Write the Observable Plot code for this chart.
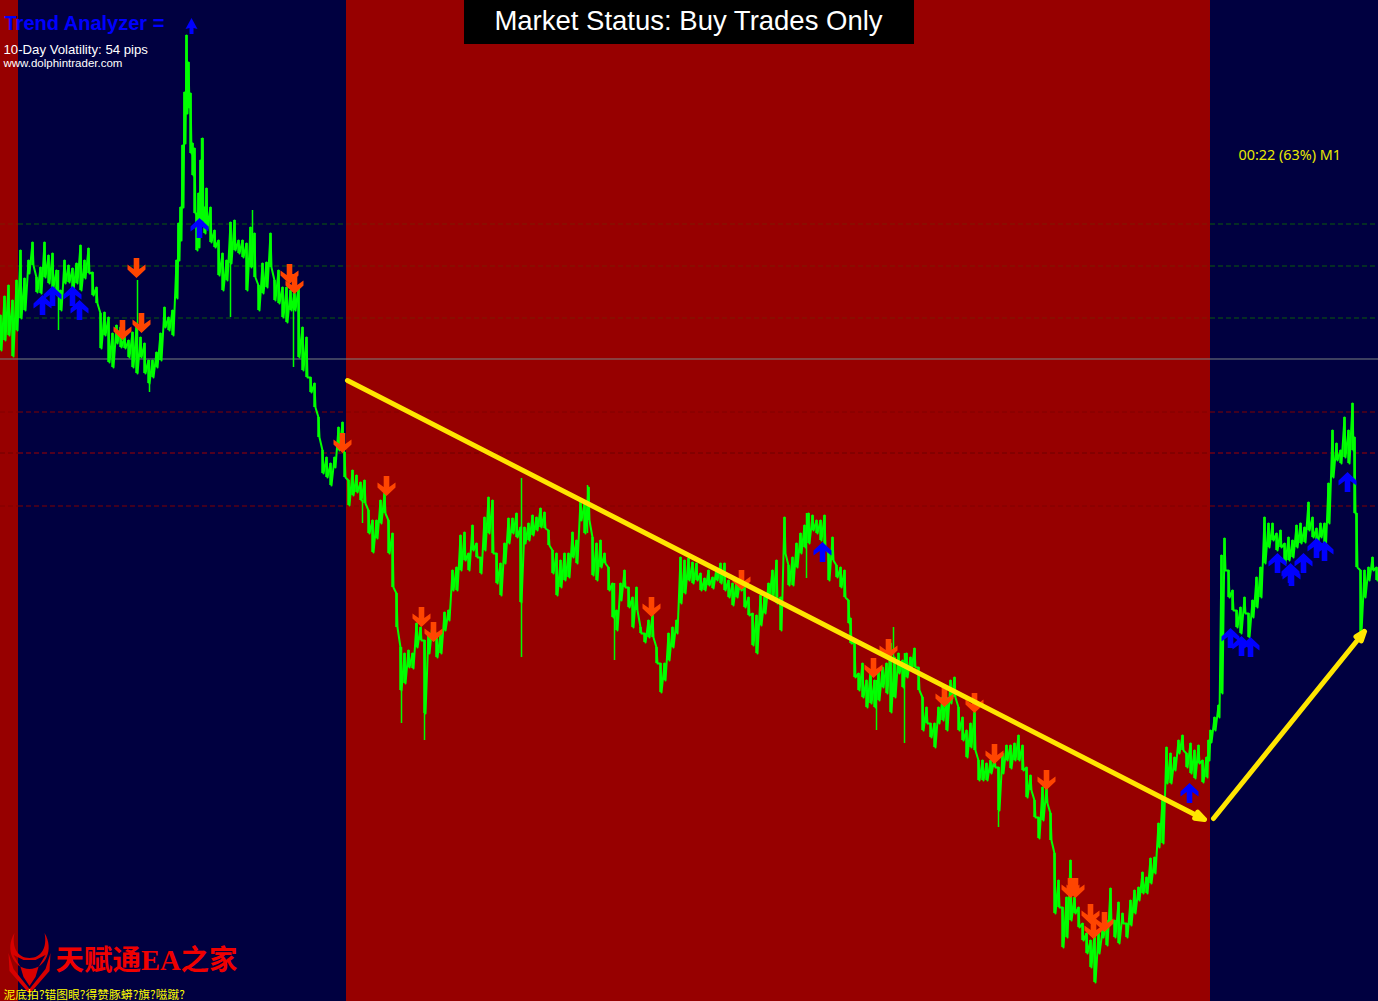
<!DOCTYPE html>
<html><head><meta charset="utf-8">
<style>html,body{margin:0;padding:0;background:#000040;overflow:hidden}svg{display:block}</style>
<script src="https://cdn.jsdelivr.net/npm/d3@7"></script>
<script src="https://cdn.jsdelivr.net/npm/@observablehq/plot@0.6"></script>
</head><body><div id="chart"></div>
<script>
// Each bar: [time, high, low], measured on the chart's own 1378 x 1001 grid (y grows downward)
const barsLeft = [[0,315,350],[4,296,340],[8,285,335],[12,300,356],[16,280,330],[20,250,318],[24,278,310],[28,260,273],[32,242,265],[36,277,292],[40,267,293],[44,242,277],[48,255,283],[52,253,287],[56,270,295],[60,290,310],[64,260,283],[68,265,282],[72,268,290],[76,263,283],[80,245,290],[84,260,278],[88,248,273],[92,272,295],[96,287,303],[100,313,348],[104,312,335],[108,317,362],[112,333,367],[116,325,343],[120,327,347],[124,337,348],[128,340,357],[132,332,367],[136,327,373],[140,337,357],[144,343,373],[148,360,383],[152,360,377],[156,352,367],[160,333,360],[164,307,327],[168,317,330],[172,310,335],[176,260,298],[178,223,260],[180,207,240],[182,145,207],[184,92,143],[186,35,113],[188,62,107],[190,93,153],[192,143,175],[194,148,213],[196,213,250],[198,193,247],[200,160,220],[202,138,220],[204,207,233],[206,188,228],[210,207,242],[214,230,247],[218,240,275],[222,253,290],[226,260,280],[230,222,263],[234,220,250],[238,240,253],[242,240,257],[246,243,290],[250,227,267],[254,233,277],[258,285,310],[262,263,293],[266,262,287],[270,233,267],[274,280,300],[278,270,303],[282,287,317],[286,287,322],[290,290,310],[294,293,310],[298,287,357],[302,327,370],[306,337,377],[310,377,392],[314,383,407],[318,417,437],[322,450,473],[326,457,477],[330,463,485],[334,457,467],[338,427,450],[342,422,450]];
const barsFall = [[344,452,477],[348,480,505],[352,470,495],[356,475,492],[360,482,500],[364,480,503],[368,510,533],[372,520,552],[376,520,538],[380,500,523],[384,493,513],[388,520,553],[392,533,587],[396,593,627],[400,647,690],[404,653,683],[408,650,667],[412,653,668],[416,623,647],[420,627,640],[424,640,713],[428,633,653],[432,623,640],[436,633,657],[440,633,653],[444,612,630],[448,610,620],[452,570,590],[456,567,590],[460,535,570],[464,532,560],[468,553,570],[472,525,550],[476,543,557],[480,557,573],[484,517,550],[488,497,533],[492,500,553],[496,553,583],[500,563,595],[504,543,563],[508,518,543],[512,518,533],[516,513,537],[520,527,602],[524,527,543],[528,523,540],[532,515,535],[536,517,530],[540,508,527],[544,512,528],[548,530,545],[552,550,573],[556,553,595],[560,560,587],[564,553,580],[568,553,577],[572,532,557],[576,540,563],[580,500,520],[584,503,533],[588,487,520],[592,537,575],[596,543,580],[600,540,567],[604,553,563],[608,567,590],[612,583,617],[616,610,630],[620,583,600],[624,570,587],[628,587,607],[632,597,627],[636,587,610],[640,627,633],[644,633,642],[648,620,637],[652,615,637],[656,647,663],[660,663,692],[664,663,680],[668,633,660],[672,627,647],[676,620,633],[680,557,603],[684,560,593],[688,558,580],[692,562,583],[696,563,580],[700,573,590],[704,578,590],[708,570,585],[712,577,588],[716,568,580],[720,563,583],[724,563,590],[728,580,597],[732,583,605],[736,580,597],[740,577,590],[744,587,607],[748,597,615],[752,613,645],[756,615,653],[760,595,625],[764,597,613],[768,583,597],[772,570,597],[776,560,603],[780,597,630],[784,517,553],[788,565,585],[792,557,585],[796,543,567],[800,533,553],[804,525,547],[808,513,543],[812,515,530],[816,520,533],[820,520,540],[824,515,547],[828,553,580],[832,537,560],[836,565,577],[840,567,587],[844,570,597],[848,600,623],[850,618,643],[854,642,677],[858,673,690],[862,663,697],[866,680,707],[870,670,703],[874,680,707],[878,672,700],[882,667,687],[886,663,693],[890,643,712],[894,657,697],[898,653,673],[902,660,687],[906,653,677],[910,657,670],[914,648,667],[918,667,690],[922,697,730],[926,707,723],[930,723,737],[934,723,747],[938,707,723],[942,697,720],[946,697,730],[950,680,703],[954,677,697],[958,707,730],[962,717,740],[966,730,757],[970,723,747],[974,712,750],[978,760,780],[982,760,780],[986,763,780],[990,760,773],[994,758,767],[998,767,810],[1002,753,773],[1006,745,760],[1010,745,768],[1014,743,760],[1018,735,760],[1022,745,770],[1026,767,797],[1030,775,790],[1034,800,817],[1038,817,838],[1042,787,820],[1046,787,803],[1050,813,840],[1054,853,913],[1058,880,907],[1062,907,947],[1066,897,937],[1070,860,920],[1074,897,913],[1078,907,927],[1082,923,940],[1086,933,953],[1090,940,967],[1094,933,982],[1098,933,953],[1102,930,937],[1106,920,945],[1110,888,923],[1114,920,937],[1118,902,943],[1122,913,923],[1126,923,937],[1130,900,925],[1134,890,913],[1138,887,900],[1142,872,893],[1146,877,893],[1150,858,883],[1154,857,873],[1158,823,847],[1162,800,843],[1166,747,783],[1170,753,783],[1174,757,770],[1178,740,753],[1182,735,750],[1186,753,767],[1190,743,773],[1194,750,778],[1198,745,763],[1202,760,782],[1206,757,777]];
const barsRight = [[1208,740,760],[1210,730,742],[1214,717,730],[1218,705,717],[1221,555,693],[1224,538,570],[1228,570,597],[1232,590,610],[1236,610,627],[1240,607,633],[1244,597,613],[1248,613,637],[1252,600,617],[1256,577,607],[1260,567,597],[1264,517,563],[1268,523,547],[1272,523,540],[1276,533,550],[1280,530,547],[1284,543,563],[1288,537,560],[1292,540,557],[1296,525,547],[1300,523,543],[1304,527,542],[1308,502,530],[1312,517,537],[1316,528,550],[1320,523,537],[1324,523,557],[1328,483,523],[1332,430,477],[1336,443,460],[1340,450,463],[1344,417,457],[1348,430,463],[1352,403,450],[1354,437,513],[1356,513,567],[1360,570,632],[1364,570,597],[1368,567,580],[1372,557,570],[1376,567,580]];
// Long single-minute wicks
const wicks = [[58,270,330],[137,280,373],[149,360,392],[201,138,220],[230,222,317],[252,210,267],[293,293,367],[362,500,523],[401,647,723],[424,640,740],[521,478,657],[587,485,533],[614,583,660],[806,513,578],[876,680,730],[893,627,697],[904,653,743],[998,767,827]];
// Trend regimes: [from, to, direction]
const regimes = [[0,18,"down"],[18,346,"up"],[346,1210,"down"],[1210,1378,"up"]];
// Dashed levels
const upperLevels = [223.5,265.5,317.5];
const lowerLevels = [411.5,505.5];
const pivotLevel = [452.5];
const currentPrice = [358.5];
// Signals: [time, level]
const buySignals = [[42,304],[52,295],[72,295],[79,309],[199,227],[822,551],[1189,792],[1230,637],[1241,645],[1250,646],[1277,562],[1290,572],[1291,575],[1303,562],[1316,547],[1324,550],[1347,481]];
const sellSignals = [[136,267],[141,322],[122,329],[289,273],[294,283],[342,442],[386,485],[421,616],[433,631],[651,606],[741,579],[873,667],[888,648],[944,696],[974,702],[994,753],[1046,779],[1070,887],[1075,887],[1090,913],[1093,928],[1104,921]];
const trendArrows = [[347,380,1204,819],[1213,818,1364,631]];
const titleText = "Market Status: Buy Trades Only";
const brandText = "天赋通EA之家";
const garbledText = "泥底拍?错图眼?得赞豚蟒?旗?嗞蹴?";

const NAVY="#000040", RED="#970000", GREEN="#00ff00";
const bars = [...barsLeft,...barsFall,...barsRight];
// Each bar runs high to low, then the path moves on to the next bar's high
const pricePath = bars.flatMap(d=>[{t:d[0],v:d[1]},{t:d[0]+1,v:d[2]}]);
const arrowShape = s => ({draw(c){
  c.moveTo(0,-10*s); c.lineTo(9,-1.5*s); c.lineTo(9,3.5*s); c.lineTo(2.8,-1*s); c.lineTo(2.8,10*s);
  c.lineTo(-2.8,10*s); c.lineTo(-2.8,-1*s); c.lineTo(-9,3.5*s); c.lineTo(-9,-1.5*s); c.closePath();
}});
const smallUp = {draw(c){c.moveTo(0,-8);c.lineTo(6,3);c.lineTo(2,2);c.lineTo(2,8);c.lineTo(-2,8);c.lineTo(-2,2);c.lineTo(-6,3);c.closePath();}};
const bull = {draw(c){
  c.moveTo(-15,-28);c.bezierCurveTo(-25,-12,-16,8,0,8);c.bezierCurveTo(16,8,25,-12,15,-28);
  c.bezierCurveTo(18,-14,12,-3,0,-3);c.bezierCurveTo(-12,-3,-18,-14,-15,-28);c.closePath();
  c.moveTo(-16,-6);c.lineTo(-6,-1);c.lineTo(6,-1);c.lineTo(16,-6);c.lineTo(9,6);c.lineTo(6,16);c.lineTo(0,25);c.lineTo(-6,16);c.lineTo(-9,6);c.closePath();
  c.moveTo(-21,-8);c.lineTo(-20,10);c.lineTo(0,33);c.lineTo(20,10);c.lineTo(21,-8);c.lineTo(16,8);c.lineTo(0,28);c.lineTo(-16,8);c.closePath();
}};
const levelRows = (ys,navyC,redC)=>ys.flatMap(y=>regimes.map(r=>({y,x1:r[0],x2:r[1],c:r[2]==="up"?navyC:redC})));
const levelMark = rows => Plot.ruleY(rows,{y:"y",x1:"x1",x2:"x2",stroke:d=>d.c,strokeWidth:1,strokeDasharray:"5,3"});
const sans = "Liberation Sans, Arial, sans-serif";

const chart = Plot.plot({
  width:1378,height:1001,margin:0,
  style:{background:NAVY},
  x:{domain:[0,1378],range:[0,1378],axis:null},
  y:{domain:[0,1001],range:[0,1001],axis:null},
  color:{type:"identity"},
  marks:[
    Plot.rect(regimes,{x1:d=>d[0],x2:d=>d[1],y1:0,y2:1001,fill:d=>d[2]==="up"?NAVY:RED}),
    levelMark(levelRows(upperLevels,"#0a5a0a","#7c1c00")),
    levelMark(levelRows(lowerLevels,"#800000","#800000")),
    levelMark(levelRows(pivotLevel,"#a00000","#6e0000")),
    Plot.ruleY(currentPrice,{stroke:"#7a8080",strokeWidth:1}),
    Plot.line(pricePath,{x:"t",y:"v",stroke:GREEN,strokeWidth:2,curve:"linear"}),
    Plot.ruleX(bars,{x:d=>d[0],y1:d=>d[1],y2:d=>d[2],stroke:GREEN,strokeWidth:2.5}),
    Plot.ruleX(wicks,{x:d=>d[0],y1:d=>d[1],y2:d=>d[2],stroke:GREEN,strokeWidth:1.5}),
    Plot.vector(sellSignals,{x:d=>d[0],y:d=>d[1],length:1,rotate:0,anchor:"middle",shape:arrowShape(-1),fill:"#ff4500",stroke:"none"}),
    Plot.vector(buySignals,{x:d=>d[0],y:d=>d[1],length:1,rotate:0,anchor:"middle",shape:arrowShape(1),fill:"#0000ff",stroke:"none"}),
    Plot.vector([[191,25]],{x:d=>d[0],y:d=>d[1],length:1,rotate:0,anchor:"middle",shape:smallUp,fill:"#0000ff",stroke:"none"}),
    Plot.arrow(trendArrows,{x1:d=>d[0],y1:d=>d[1],x2:d=>d[2],y2:d=>d[3],stroke:"#ffe600",strokeWidth:5,headLength:3,headAngle:40,bend:0}),
    Plot.rect([0],{x1:464,x2:914,y1:0,y2:44,fill:"#000"}),
    Plot.text([titleText],{x:688,y:21,text:d=>d,fill:"#fff",fontSize:27.5,fontFamily:sans}),
    Plot.text(["Trend Analyzer ="],{x:4,y:23,text:d=>d,fill:"#0000ff",fontSize:20,fontWeight:700,textAnchor:"start",fontFamily:sans}),
    Plot.text(["10-Day Volatility: 54 pips"],{x:3,y:49,text:d=>d,fill:"#fff",fontSize:13.2,textAnchor:"start",fontFamily:sans}),
    Plot.text(["www.dolphintrader.com"],{x:3,y:63,text:d=>d,fill:"#fff",fontSize:11.5,textAnchor:"start",fontFamily:sans}),
    Plot.text(["00:22 (63%) M1"],{x:1238,y:155,text:d=>d,fill:"#e8e800",fontSize:14.4,textAnchor:"start",fontFamily:"Noto Sans"}),
    Plot.vector([[29,960]],{x:d=>d[0],y:d=>d[1],length:1,rotate:0,anchor:"middle",shape:bull,fill:"#d80000",stroke:"none"}),
    Plot.text([brandText],{x:55,y:960,text:d=>d,fill:"#f00000",fontSize:28.5,fontWeight:700,textAnchor:"start",fontFamily:"Liberation Serif, Noto Sans CJK SC"}),
    Plot.text([garbledText],{x:3,y:995,text:d=>d,fill:"#ffff00",fontSize:11.8,textAnchor:"start",fontFamily:"Noto Sans CJK SC"})
  ]
});
document.getElementById("chart").appendChild(chart);
</script></body></html>
